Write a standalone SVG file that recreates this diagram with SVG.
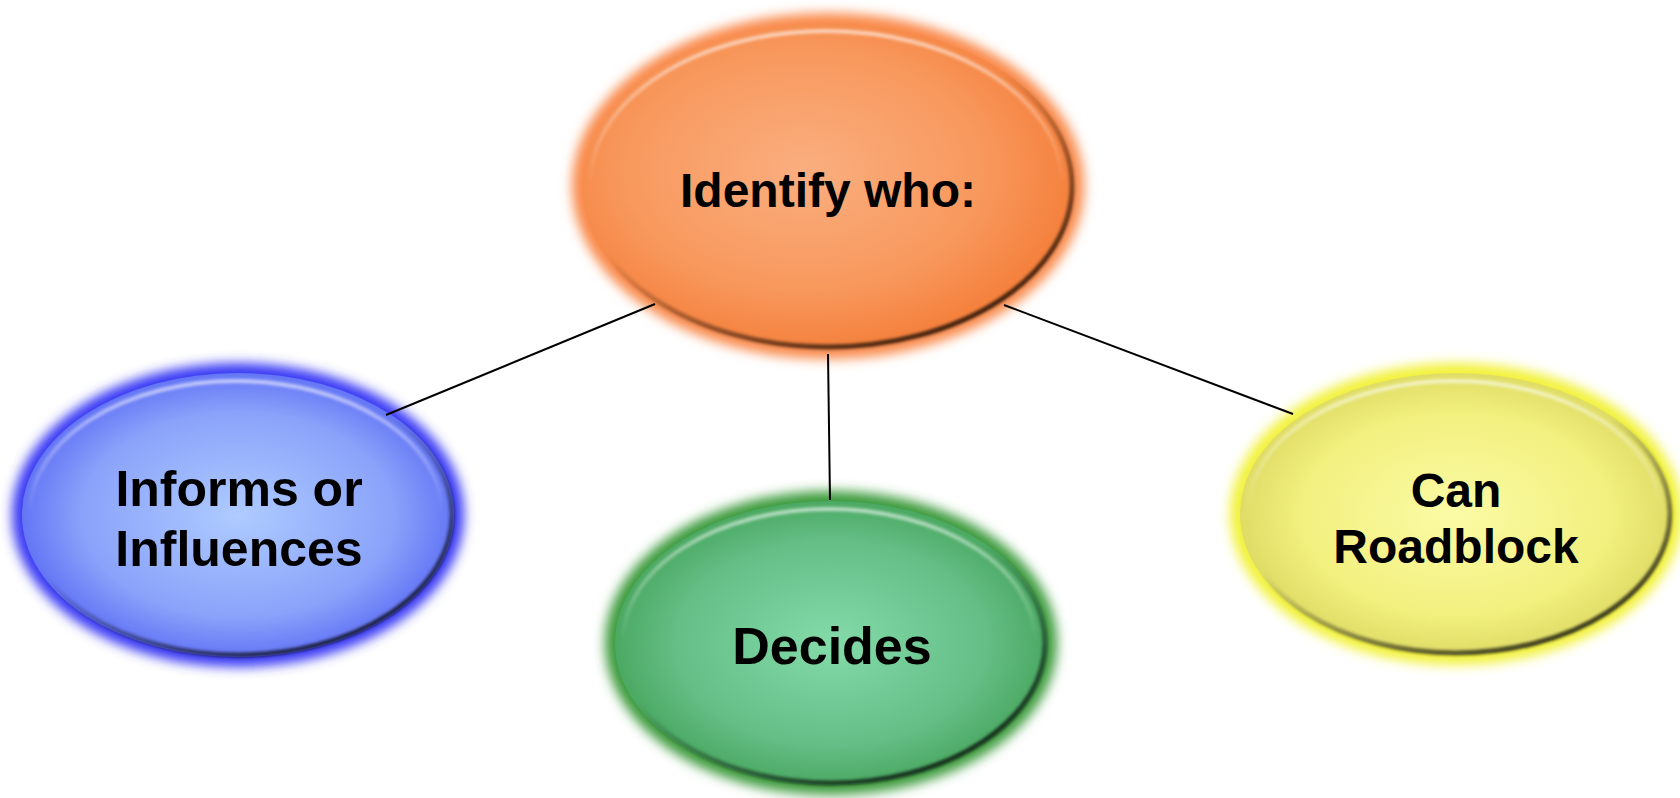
<svg xmlns="http://www.w3.org/2000/svg" width="1680" height="798" viewBox="0 0 1680 798">
<style>
.lbl{font-family:"Liberation Sans",Arial,sans-serif;font-weight:bold;font-size:48px;fill:#000;text-anchor:middle}
.conn{stroke:#000;stroke-width:2;fill:none}
.bevel{fill:none;stroke:url(#bevel);stroke-width:5;filter:url(#soft)}
.hl{fill:none;stroke:url(#hlg);stroke-width:4;filter:url(#soft)}
</style>
<defs>
<filter id="glow" x="-20%" y="-20%" width="140%" height="140%"><feGaussianBlur stdDeviation="6"/></filter>
<filter id="soft" x="-10%" y="-10%" width="120%" height="120%"><feGaussianBlur stdDeviation="1.5"/></filter>
<radialGradient id="gOrange" cx="0.45" cy="0.45" r="0.6"><stop offset="0" stop-color="#FAAE7F"/><stop offset="0.6" stop-color="#F8995E"/><stop offset="1" stop-color="#F47B35"/></radialGradient>
<radialGradient id="gBlue" cx="0.5" cy="0.5" r="0.6"><stop offset="0" stop-color="#AFCBFF"/><stop offset="0.6" stop-color="#8AA3FA"/><stop offset="1" stop-color="#4A55F2"/></radialGradient>
<radialGradient id="gGreen" cx="0.5" cy="0.5" r="0.6"><stop offset="0" stop-color="#84DBAA"/><stop offset="0.6" stop-color="#64BE86"/><stop offset="1" stop-color="#3A9A4A"/></radialGradient>
<radialGradient id="gYellow" cx="0.5" cy="0.5" r="0.6"><stop offset="0" stop-color="#FBFBA6"/><stop offset="0.6" stop-color="#F2F07E"/><stop offset="1" stop-color="#D2CF55"/></radialGradient>
<linearGradient id="bevel" x1="0" y1="0" x2="0.7" y2="1"><stop offset="0" stop-color="#000" stop-opacity="0"/><stop offset="0.5" stop-color="#000" stop-opacity="0"/><stop offset="0.85" stop-color="#000" stop-opacity="0.55"/><stop offset="1" stop-color="#000" stop-opacity="0.75"/></linearGradient>
<linearGradient id="hlg" x1="0" y1="0" x2="0" y2="1"><stop offset="0" stop-color="#fff" stop-opacity="0.6"/><stop offset="0.3" stop-color="#fff" stop-opacity="0.25"/><stop offset="0.5" stop-color="#fff" stop-opacity="0"/></linearGradient>
</defs>

<g id="node-identify">
<ellipse cx="828" cy="186" rx="256" ry="173" fill="#F98A4C" filter="url(#glow)"/>
<ellipse cx="828" cy="186" rx="246" ry="163" fill="url(#gOrange)"/>
<ellipse cx="828" cy="186" rx="244" ry="161" class="bevel"/>
<ellipse cx="826" cy="184" rx="236" ry="153" class="hl"/>
<text class="lbl" x="828" y="207">Identify who:</text>
</g>

<g id="node-informs">
<ellipse cx="238" cy="515" rx="226" ry="152" fill="#3A3AF5" filter="url(#glow)"/>
<ellipse cx="238" cy="515" rx="216" ry="142" fill="url(#gBlue)"/>
<ellipse cx="238" cy="515" rx="214" ry="140" class="bevel"/>
<ellipse cx="236" cy="513" rx="206" ry="132" class="hl"/>
<text class="lbl" x="239" y="506" style="font-size:50px">Informs or</text>
<text class="lbl" x="239" y="566" style="font-size:50px">Influences</text>
</g>

<g id="node-decides">
<ellipse cx="831" cy="643" rx="226" ry="152" fill="#3C9B3C" filter="url(#glow)"/>
<ellipse cx="831" cy="643" rx="216" ry="142" fill="url(#gGreen)"/>
<ellipse cx="831" cy="643" rx="214" ry="140" class="bevel"/>
<ellipse cx="829" cy="641" rx="206" ry="132" class="hl"/>
<text class="lbl" x="832" y="664" style="font-size:52px">Decides</text>
</g>

<g id="node-roadblock">
<ellipse cx="1456" cy="514" rx="226" ry="151" fill="#F2F23A" filter="url(#glow)"/>
<ellipse cx="1456" cy="514" rx="216" ry="141" fill="url(#gYellow)"/>
<ellipse cx="1456" cy="514" rx="214" ry="139" class="bevel"/>
<ellipse cx="1454" cy="512" rx="206" ry="131" class="hl"/>
<text class="lbl" x="1456" y="507">Can</text>
<text class="lbl" x="1456" y="563">Roadblock</text>
</g>

<g id="connectors">
<line class="conn" x1="655" y1="304" x2="386" y2="415"/>
<line class="conn" x1="828" y1="354" x2="830" y2="500"/>
<line class="conn" x1="1004" y1="305" x2="1293" y2="414"/>
</g>
</svg>
